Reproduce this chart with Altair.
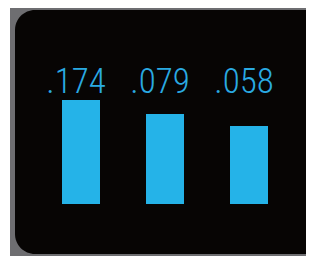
import altair as alt
import pandas as pd

categories = ["A", "B", "C"]
labels = [".174", ".079", ".058"]
bar_heights = [104, 90, 78]

df = pd.DataFrame({"cat": categories, "label": labels, "h": bar_heights})
one = pd.DataFrame({"a": [0]})

W, H = 298, 248

gray = alt.Chart(one).mark_rect(color="#6e6e71").encode(
    x=alt.value(2), x2=alt.value(320), y=alt.value(-5), y2=alt.value(270)
)
black = alt.Chart(one).mark_rect(color="#070504", cornerRadius=20).encode(
    x=alt.value(7), x2=alt.value(317), y=alt.value(2), y2=alt.value(246)
)

xs = alt.X("cat:N", axis=None,
           scale=alt.Scale(range=[31, 283], paddingInner=0.5476, paddingOuter=0.2738))

bars = alt.Chart(df).mark_bar(color="#25b3e8").encode(
    x=xs,
    y=alt.Y("h:Q", axis=None, scale=alt.Scale(domain=[0, 196], range=[196, 0])),
    y2=alt.datum(0),
)

text = alt.Chart(df).mark_text(
    color="#2aaae2", font="Roboto Condensed", fontWeight=300, fontSize=35,
    baseline="alphabetic", align="center", dx=-5
).encode(
    x=xs,
    y=alt.value(85),
    text="label:N",
)

chart = alt.layer(gray, black, bars, text).properties(
    width=W, height=H, autosize=alt.AutoSizeParams(type="none"), padding=0,
    background="#ffffff"
).configure_view(stroke=None)

chart.save("out.html", embed_options={"renderer": "svg", "actions": False})
